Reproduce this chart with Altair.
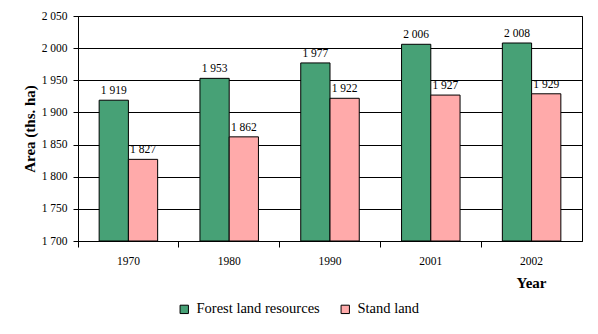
import altair as alt
import pandas as pd

years = ["1970", "1980", "1990", "2001", "2002"]
forest = [1919, 1953, 1977, 2006, 2008]
stand = [1827, 1862, 1922, 1927, 1929]
series = ["Forest land resources", "Stand land"]
y_ticks = [1700, 1750, 1800, 1850, 1900, 1950, 2000, 2050]
colors = ["#47a176", "#ffaaaa"]

rows = []
for i, yr in enumerate(years):
    rows.append({"year": yr, "series": series[0], "value": forest[i]})
    rows.append({"year": yr, "series": series[1], "value": stand[i]})
df = pd.DataFrame(rows)

FONT = "Liberation Serif"

base = alt.Chart(df).transform_calculate(
    label="replace(format(datum.value, ','), ',', ' ')"
).encode(
    x=alt.X(
        "year:N",
        sort=years,
        scale=alt.Scale(paddingInner=0, paddingOuter=0),
        axis=alt.Axis(
            title="Year",
            labelAngle=0,
            ticks=True,
            bandPosition=0,
            tickSize=6,
            tickWidth=1,
            tickOpacity=1,
            labelPadding=8,
            labelFont=FONT,
            labelFontSize=11.5,
            labelColor="black",
            tickColor="black",
            domainColor="black",
            titleFont=FONT,
            titleFontSize=15,
            titleFontWeight="bold",
            titleColor="black",
            titleX=453,
            titleY=46,
            titleAlign="center",
            titleBaseline="alphabetic",
        ),
    ),
    xOffset=alt.XOffset(
        "series:N", sort=series, scale=alt.Scale(paddingInner=0, paddingOuter=0.723)
    ),
    y=alt.Y(
        "value:Q",
        scale=alt.Scale(domain=[1700, 2050], nice=False, zero=False),
        axis=alt.Axis(
            values=y_ticks,
            labelExpr="replace(format(datum.value, ','), ',', ' ')",
            labelOverlap=False,
            title="Area (ths. ha)",
            grid=True,
            gridColor="black",
            gridOpacity=1,
            tickColor="black",
            domainColor="black",
            tickSize=5,
            labelPadding=6,
            labelFont=FONT,
            labelFontSize=11.5,
            labelColor="black",
            titleFont=FONT,
            titleFontSize=15,
            titleFontWeight="bold",
            titleColor="black",
            titlePadding=4,
        ),
    ),
)

bars = base.mark_bar(stroke="black", strokeWidth=1).encode(
    y2=alt.datum(1700),
    color=alt.Color(
        "series:N",
        scale=alt.Scale(domain=series, range=colors),
        legend=alt.Legend(
            title=None,
            orient="none",
            direction="horizontal",
            legendX=99,
            legendY=286,
            symbolType="square",
            symbolSize=70,
            symbolStrokeColor="black",
            symbolStrokeWidth=1,
            symbolOpacity=1,
            labelFont=FONT,
            labelFontSize=14.5,
            labelColor="black",
            labelOffset=5,
            columnPadding=18,
            padding=0,
        ),
    ),
)

labels = base.mark_text(
    baseline="alphabetic", dy=-6, font=FONT, fontSize=11.5, color="black"
).encode(text="label:N")

chart = (
    alt.layer(bars, labels)
    .properties(
        width=504,
        height=225,
        autosize=alt.AutoSizeParams(type="none"),
        padding={"left": 78, "top": 16, "right": 16, "bottom": 93},
    )
    .configure(font=FONT, background="white")
    .configure_view(stroke="black", strokeWidth=1)
)

chart.save("out.html", embed_options={"renderer": "svg", "actions": False})
